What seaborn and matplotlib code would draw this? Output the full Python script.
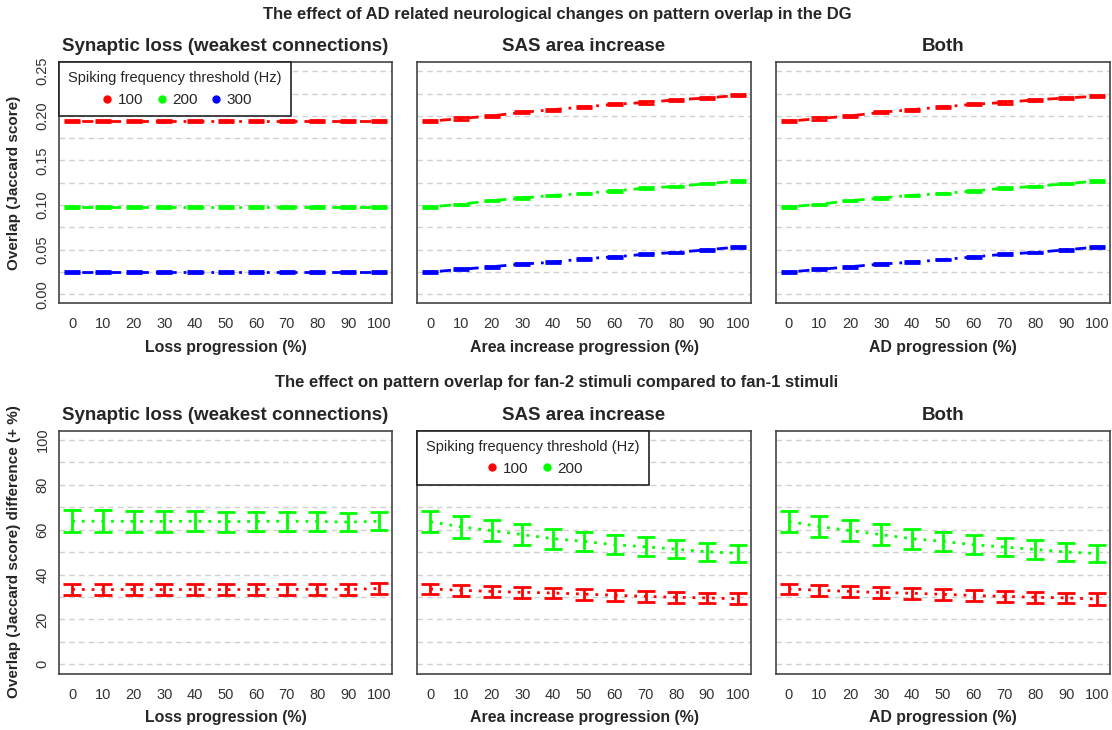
import matplotlib
matplotlib.use("Agg")
import matplotlib.pyplot as plt
from matplotlib.lines import Line2D
import numpy as np
import pandas as pd
import seaborn as sns

# progression steps (%)
progress = [0, 10, 20, 30, 40, 50, 60, 70, 80, 90, 100]

# top row: overlap (Jaccard score)
loss_100 = [0.194] * 11
loss_200 = [0.098] * 11
loss_300 = [0.025] * 11
sas_100 = [0.194, 0.197, 0.200, 0.204, 0.207, 0.210, 0.213, 0.215, 0.218, 0.220, 0.223]
sas_200 = [0.098, 0.101, 0.105, 0.108, 0.111, 0.113, 0.116, 0.119, 0.121, 0.124, 0.127]
sas_300 = [0.025, 0.028, 0.031, 0.034, 0.036, 0.040, 0.042, 0.045, 0.047, 0.050, 0.053]
both_100 = [0.194, 0.197, 0.200, 0.204, 0.207, 0.210, 0.213, 0.215, 0.218, 0.220, 0.222]
both_200 = [0.098, 0.101, 0.105, 0.108, 0.111, 0.113, 0.116, 0.119, 0.121, 0.124, 0.127]
both_300 = [0.025, 0.028, 0.031, 0.034, 0.036, 0.039, 0.042, 0.045, 0.047, 0.050, 0.053]
err_100 = [0.0012] * 11
err_200 = [0.0008] * 11
err_300 = [0.0010] * 11

# bottom row: fan-2 vs fan-1 difference (+ %)
dloss_100 = [33.4, 33.3, 33.4, 33.3, 33.4, 33.3, 33.4, 33.4, 33.5, 33.4, 33.8]
dloss_200 = [63.8, 63.8, 63.7, 63.7, 63.8, 63.6, 63.7, 63.8, 63.7, 63.4, 63.8]
dsas_100 = [33.6, 33.0, 32.5, 32.1, 31.8, 31.3, 30.8, 30.3, 29.9, 29.6, 29.2]
dsas_200 = [63.6, 61.3, 59.6, 57.8, 56.0, 54.8, 53.3, 52.4, 51.3, 50.2, 49.5]
dboth_100 = [33.6, 33.0, 32.5, 32.0, 31.7, 31.2, 30.7, 30.3, 29.9, 29.6, 29.1]
dboth_200 = [63.7, 61.4, 59.6, 57.8, 56.0, 54.8, 53.3, 52.3, 51.2, 50.1, 49.4]
derr_100 = [2.4, 2.4, 2.4, 2.4, 2.4, 2.4, 2.4, 2.4, 2.4, 2.4, 2.5]
derr_200 = [4.8, 4.8, 4.7, 4.6, 4.5, 4.4, 4.3, 4.2, 4.1, 4.0, 3.9]

titles = ["Synaptic loss (weakest connections)", "SAS area increase", "Both"]
xlabels = ["Loss progression (%)", "Area increase progression (%)", "AD progression (%)"]
colors = {"100": "#FF0000", "200": "#00FF00", "300": "#0000FF"}

sns.set_style("white")
plt.rcParams['font.family'] = ['Liberation Sans', 'DejaVu Sans']

fig = plt.figure(figsize=(11.12, 7.30), dpi=100)
W, H = 1112, 730
cols = [(59.3, 391.7), (417.3, 750.7), (775.7, 1110)]
rows = [(62.3, 303.3), (431, 674)]

def make_ax(c, r):
    x0, x1 = cols[c]
    y0, y1 = rows[r]
    return fig.add_axes([x0 / W, 1 - y1 / H, (x1 - x0) / W, (y1 - y0) / H])

top = [
    {"100": loss_100, "200": loss_200, "300": loss_300},
    {"100": sas_100, "200": sas_200, "300": sas_300},
    {"100": both_100, "200": both_200, "300": both_300},
]
top_err = {"100": err_100, "200": err_200, "300": err_300}
bottom = [
    {"100": dloss_100, "200": dloss_200},
    {"100": dsas_100, "200": dsas_200},
    {"100": dboth_100, "200": dboth_200},
]
bottom_err = {"100": derr_100, "200": derr_200}

def style_ax(ax, c, r):
    ax.set_xlim(-4.2, 104.2)
    ax.set_xticks(progress)
    ax.tick_params(axis="x", labelsize=10.5, colors="#333333", length=4, width=0.8, pad=6)
    if r == 0:
        ax.set_ylim(-0.01, 0.26)
        grid = np.arange(0, 0.2501, 0.025)
        ax.set_yticks(np.arange(0, 0.2501, 0.05))
        ax.set_yticklabels(["0.00", "0.05", "0.10", "0.15", "0.20", "0.25"])
    else:
        ax.set_ylim(-4.3, 104)
        grid = np.arange(0, 101, 10)
        ax.set_yticks(np.arange(0, 101, 20))
    for g in grid:
        ax.axhline(g, color="#d0d0d0", lw=1, ls=(0, (4, 3)), zorder=0)
    if c == 0:
        ax.tick_params(axis="y", labelsize=10.5, colors="#333333", length=4, width=0.8, pad=3)
        for t in ax.get_yticklabels():
            t.set_rotation(90)
            t.set_va("center")
    else:
        ax.tick_params(axis="y", left=False, labelleft=False)
    for s in ax.spines.values():
        s.set_color("#444444")
        s.set_linewidth(1.2)
    ax.set_title(titles[c], fontsize=13.5, fontweight="bold", pad=8)
    ax.set_xlabel(xlabels[c], fontsize=11.4, fontweight="bold", labelpad=6)
    ax.set_ylabel("")

for r in range(2):
    for c in range(3):
        ax = make_ax(c, r)
        series = top[c] if r == 0 else bottom[c]
        errs = top_err if r == 0 else bottom_err
        ls = (0, (1, 2.5, 4, 2.5)) if r == 0 else (0, (1, 2.5))
        for key, vals in series.items():
            df = pd.DataFrame({"progress": progress, "value": vals})
            sns.lineplot(data=df, x="progress", y="value", ax=ax, color=colors[key],
                         lw=2, linestyle=ls, errorbar=None)
            ax.errorbar(progress, vals, yerr=errs[key], fmt="none", ecolor=colors[key],
                        elinewidth=2, capsize=6 if r == 0 else 6.5, capthick=2)
        style_ax(ax, c, r)
        if (r, c) in [(0, 0), (1, 1)]:
            keys = list(series.keys())
            handles = [Line2D([], [], ls="none", marker="o", ms=5, color=colors[k]) for k in keys]
            leg = ax.legend(handles, keys, title="Spiking frequency threshold (Hz)", ncol=len(keys),
                            loc="upper left", bbox_to_anchor=(0, 1), frameon=True, fancybox=False,
                            fontsize=11, title_fontsize=10.5, handletextpad=0.1, columnspacing=0.6,
                            handlelength=1.2, borderaxespad=0, borderpad=0.6)
            leg.get_frame().set_edgecolor("#222222")
            leg.get_frame().set_linewidth(1.2)
            leg.get_frame().set_alpha(1)

fig.text(14 / W, 1 - 183 / H, "Overlap (Jaccard score)", rotation=90, ha="center", va="center",
         fontsize=11, fontweight="bold")
fig.text(14 / W, 1 - 552 / H, "Overlap (Jaccard score) difference (+ %)", rotation=90, ha="center",
         va="center", fontsize=11, fontweight="bold")
fig.text(557 / W, 1 - 15 / H, "The effect of AD related neurological changes on pattern overlap in the DG",
         ha="center", va="center", fontsize=12, fontweight="bold")
fig.text(557 / W, 1 - 383 / H, "The effect on pattern overlap for fan-2 stimuli compared to fan-1 stimuli",
         ha="center", va="center", fontsize=12, fontweight="bold")

fig.savefig("out.png", dpi=100, facecolor="white")
